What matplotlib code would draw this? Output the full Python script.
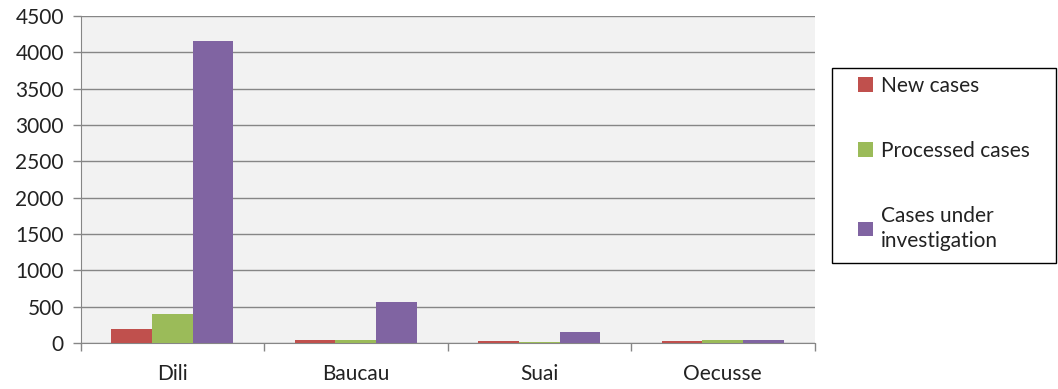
import numpy as np
import matplotlib.pyplot as plt
from matplotlib.patches import Rectangle

plt.rcParams['font.family'] = ['Lato', 'DejaVu Sans']

districts = ["Dili", "Baucau", "Suai", "Oecusse"]
new_cases = [190, 37, 23, 23]
processed_cases = [400, 37, 18, 37]
under_investigation = [4150, 560, 147, 37]

series = [
    ("New cases", new_cases, "#C0504D"),
    ("Processed cases", processed_cases, "#9BBB59"),
    ("Cases under\ninvestigation", under_investigation, "#8064A2"),
]

W, H = 1058, 389
fig = plt.figure(figsize=(W / 100, H / 100), dpi=100)
ax = fig.add_axes([80.5 / W, 46 / H, 734 / W, 327 / H])
ax.set_facecolor("#F2F2F2")

x = np.arange(len(districts))
width = 1 / 4.5
for i, (label, vals, color) in enumerate(series):
    ax.bar(x + (i - 1) * width, vals, width, color=color, label=label, zorder=3)

ax.set_xlim(-0.5, len(districts) - 0.5)
ax.set_ylim(0, 4500)
ax.set_yticks(np.arange(0, 4501, 500))
ax.yaxis.grid(True, color="#868686", linewidth=1, zorder=1)

# category boundaries as major ticks, names on minor ticks
ax.set_xticks(np.arange(-0.5, len(districts), 1))
ax.set_xticklabels([])
ax.set_xticks(x, minor=True)
ax.set_xticklabels(districts, minor=True)
ax.tick_params(axis="x", which="major", length=6, color="#868686", width=1)
ax.tick_params(axis="x", which="minor", length=0, pad=15, labelsize=15, labelcolor="#222222")
ax.tick_params(axis="y", length=6, color="#868686", width=1, labelsize=15, pad=6, labelcolor="#222222")

for side in ["top", "right"]:
    ax.spines[side].set_visible(False)
for side in ["left", "bottom"]:
    ax.spines[side].set_color("#868686")

# legend box
fig.patches.append(Rectangle((832 / W, 1 - 263 / H), 224 / W, 195 / H, transform=fig.transFigure,
                             facecolor="white", edgecolor="black", linewidth=1))
leg = fig.legend(loc="upper left", bbox_to_anchor=(858 / W, 1 - 76 / H),
                 fontsize=15, labelspacing=2.15, handlelength=0.7, handleheight=0.7,
                 handletextpad=0.4, borderpad=0, borderaxespad=0, frameon=False)
for t in leg.get_texts():
    t.set_color("#222222")
    t.set_linespacing(1.35)

fig.savefig("out.png", dpi=100)
